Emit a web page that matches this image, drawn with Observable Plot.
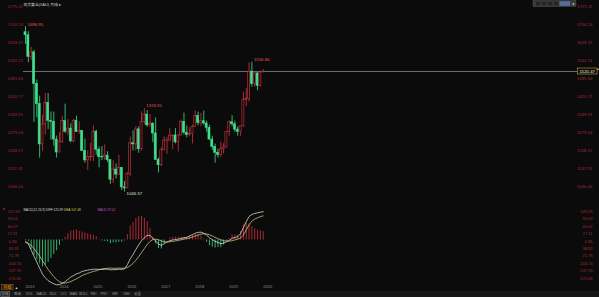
<!DOCTYPE html>
<html><head><meta charset="utf-8">
<script src="https://cdn.jsdelivr.net/npm/d3@7"></script>
<script src="https://cdn.jsdelivr.net/npm/@observablehq/plot@0.6"></script>
<style>
html,body{margin:0;padding:0;background:#0b0b0b;}
#wrap{position:relative;width:599px;height:297px;overflow:hidden;background:#0b0b0b;}
#wrap svg{position:absolute;left:0;}
</style></head><body><div id="wrap"></div>
<script>
// ---------- data ----------
const months = [
"2013-01","2013-02","2013-03","2013-04","2013-05","2013-06","2013-07","2013-08","2013-09","2013-10","2013-11","2013-12",
"2014-01","2014-02","2014-03","2014-04","2014-05","2014-06","2014-07","2014-08","2014-09","2014-10","2014-11","2014-12",
"2015-01","2015-02","2015-03","2015-04","2015-05","2015-06","2015-07","2015-08","2015-09","2015-10","2015-11","2015-12",
"2016-01","2016-02","2016-03","2016-04","2016-05","2016-06","2016-07","2016-08","2016-09","2016-10","2016-11","2016-12",
"2017-01","2017-02","2017-03","2017-04","2017-05","2017-06","2017-07","2017-08","2017-09","2017-10","2017-11","2017-12",
"2018-01","2018-02","2018-03","2018-04","2018-05","2018-06","2018-07","2018-08","2018-09","2018-10","2018-11","2018-12",
"2019-01","2019-02","2019-03","2019-04","2019-05","2019-06","2019-07","2019-08","2019-09","2019-10","2019-11","2019-12",
"2020-01"];
const open = [1675,1663,1578,1596,1472,1392,1234,1312,1396,1327,1323,1253,
1202,1244,1326,1284,1296,1246,1327,1282,1287,1208,1171,1183,
1184,1284,1213,1184,1183,1190,1172,1095,1135,1115,1142,1065,
1061,1118,1238,1234,1293,1215,1322,1351,1309,1316,1277,1173,
1152,1211,1248,1249,1268,1269,1242,1269,1322,1280,1271,1275,
1303,1345,1318,1325,1316,1299,1253,1224,1201,1192,1215,1222,
1282,1321,1313,1292,1283,1305,1409,1413,1520,1472,1513,1464,
1517];
const high = [1696.95,1677,1616,1604,1487,1424,1348,1434,1434,1362,1361,1267,
1280,1345,1392,1331,1315,1332,1345,1323,1288,1255,1208,1238,
1307,1289,1224,1225,1232,1205,1172,1170,1157,1191,1142,1088,
1124,1263,1287,1304,1303,1362,1374.91,1367,1352,1318,1338,1180,
1220,1264,1262,1296,1270,1296,1270,1330,1357,1306,1299,1309,
1366,1361,1356,1365,1326,1309,1266,1235,1214,1243,1237,1284,
1326,1347,1325,1303,1306,1439,1453,1555,1556.80,1517,1516,1522,
1528];
const low = [1627,1555,1563,1321,1338,1180,1207,1271,1292,1251,1227,1180,
1202,1238,1277,1268,1240,1240,1281,1273,1207,1160,1131,1167,
1167,1191,1142,1170,1170,1162,1077,1080,1098,1111,1052,1046.37,
1061,1107,1208,1207,1199,1208,1310,1301,1302,1241,1171,1122,
1147,1208,1195,1244,1214,1236,1204,1267,1271,1260,1264,1236,
1302,1307,1303,1310,1282,1251,1211,1160,1180,1183,1196,1221,
1266,1303,1281,1266,1266,1301,1382,1400,1459,1459,1445,1459,
1517];
const close = [1663,1578,1596,1472,1392,1234,1312,1396,1327,1323,1253,1202,
1244,1326,1284,1296,1246,1327,1282,1287,1208,1171,1183,1184,
1284,1213,1184,1183,1190,1172,1095,1135,1115,1142,1065,1061,
1118,1238,1234,1293,1215,1322,1351,1309,1316,1277,1173,1152,
1211,1249,1249,1268,1269,1242,1269,1322,1280,1271,1275,1303,
1345,1318,1325,1316,1299,1253,1224,1201,1192,1215,1222,1282,
1321,1313,1292,1283,1305,1409,1413,1520,1472,1513,1464,1517,
1520.47];
const lastPrice = 1520.47;

const diff = [-10,-17,-45,-72,-99,-125,-152,-168,-181,-189,-195,-200,
-198,-193,-186,-175,-165,-158,-151,-147,-140,-137,-134,-132,
-130,-130,-131,-131,-130,-130,-133,-132,-132,-130,-131,-128,
-110,-84,-65,-42,-22,-3,10,21,20,8,-5,-18,
-24,-16,-9,-3,0,2,4,7,10,12,18,24,
30,34,35,30,22,10,2,-6,-11,-16,-14,-8,
-2,8,11,15,28,55,82,104,114,118,121,124,
125.99];
const dea = [-8,-14,-24,-38,-55,-72,-92,-112,-131,-148,-163,-176,
-186,-191,-192,-189,-185,-179,-173,-166,-158,-153,-148,-144,
-140,-137,-132,-129,-127,-126,-125,-126,-126,-125,-126,-126,
-122,-115,-104,-90,-74,-56,-38,-20,-6,2,4,1,
-4,-8,-9,-8,-6,-4,-2,1,4,6,9,13,
18,22,26,28,27,23,18,12,6,1,-3,-5,
-5,-3,0,4,9,22,45,68,84,93,99,104,
107.48];
const macd = [-4,-6,-42,-68,-88,-106,-120,-112,-100,-82,-64,-48,
-24,-4,12,28,40,42,44,38,36,32,28,24,
20,14,2,-4,-6,-8,-16,-12,-12,-10,-10,-4,
24,62,78,96,104,106,96,82,52,12,-18,-38,
-40,-16,0,10,12,12,12,12,12,12,18,22,
24,24,18,4,-10,-26,-32,-36,-34,-34,-22,-6,
6,22,22,22,38,66,74,72,60,50,44,40,
37.02];

const priceTicks = [1775.11,1704.24,1633.37,1562.51,1491.64,1420.77,1349.91,1279.04,1208.17,1137.31,1066.44];
const priceTickLabels = ["1775.11","1704.24","1633.37","1562.51","1491.64","1420.77","1349.91","1279.04","1208.17","1137.31","1066.44"];
const macdTicks = [125.99,93.03,60.07,27.11,-5.86,-38.82,-71.78,-104.74,-137.70,-170.66];
const macdTickLabels = ["125.99","93.03","60.07","27.11","-5.86","-38.82","-71.78","-104.74","-137.70","-170.66"];
const years = ["2013","2014","2015","2016","2017","2018","2019","2020"];
const yearMonths = ["2013-01","2014-01","2015-01","2016-01","2017-01","2018-01","2019-01","2020-01"];

const annotMonths = ["2013-01","2016-07","2019-09","2015-12"];
const annotValues = [1696.95,1374.91,1556.80,1046.37];
const annotLabels = ["1696.95","1374.91","1556.80","1046.37"];
const annotKinds = ["max","max","max","min"];

const titleText = "现货黄金(XAU)·月线 ▸";
const macdTitle = ["MACD(12,26,9) DIFF:125.99","DEA:107.48","MACD:37.02"];
const toolbarItems = ["日线","周线","VOL","MACD","KDJ","CCI","BIAS","BOLL","RSI","PSY","WR","DMI","设置"];

// ---------- layout / style ----------
const W = 599, H = 297;
const X0 = 25, STEP = 2.83;           // x of first candle, px per month
const xDomain = [-X0 / STEP, (W - X0) / STEP];
const BG = "#0b0b0b", RED = "#d3333f", GREEN = "#3fe08e", AXIS = "#a8283a";
const FONT = "'Liberation Sans', 'Noto Sans CJK SC', sans-serif";
const idx = m => months.indexOf(m);

const rows = months.map((m, i) => ({i, o: open[i], h: high[i], l: low[i], c: close[i]}));
const up = d => d.c >= d.o;
const annots = annotLabels.map((t, i) => ({t, i: idx(annotMonths[i]), v: annotValues[i], k: annotKinds[i]}));

const xScale = {type: "linear", domain: xDomain, range: [0, W], axis: null};

const PH = 200;
const pricePlot = Plot.plot({
  width: W, height: PH, margin: 0,
  style: {background: "transparent", fontFamily: FONT, overflow: "visible"},
  x: xScale,
  y: {domain: [1013.3, 1799.8], range: [PH, 0], axis: null},
  marks: [
    Plot.ruleY([lastPrice], {stroke: "#9a9a9a", strokeWidth: 0.7, insetLeft: 23, insetRight: 2}),
    Plot.ruleX(rows, {x: "i", y1: "l", y2: "h", stroke: d => up(d) ? RED : GREEN, strokeWidth: 0.8}),
    Plot.rect(rows, {x1: d => d.i - 0.36, x2: d => d.i + 0.36, y1: "o", y2: "c",
      fill: d => up(d) ? BG : GREEN, stroke: d => up(d) ? RED : GREEN, strokeWidth: 0.6}),
    Plot.text(priceTicks, {y: d => d, text: (d, i) => priceTickLabels[i], frameAnchor: "left",
      textAnchor: "start", dx: 7, fill: AXIS, fontSize: 4.3}),
    Plot.text(priceTicks, {y: d => d, text: (d, i) => priceTickLabels[i], frameAnchor: "right",
      textAnchor: "end", dx: -7, fill: AXIS, fontSize: 4.3}),
    Plot.text(annots.filter(a => a.k === "max"), {x: "i", y: "v", text: "t",
      textAnchor: "start", dx: 2, dy: -2.5, fill: "#f0505e", fontSize: 4.3}),
    Plot.text(annots.filter(a => a.k === "min"), {x: "i", y: "v", text: "t",
      textAnchor: "start", dx: 2, dy: 2, fill: "#cfe6d6", fontSize: 4.3}),
    Plot.text([titleText], {frameAnchor: "top-left", dx: 23, dy: 4, lineAnchor: "middle",
      textAnchor: "start", fill: "#cfcfcf", fontSize: 3.8})
  ]
});

const MH = 90, MTOP = 200;
const mrows = months.map((m, i) => ({i, diff: diff[i], dea: dea[i], macd: macd[i]}));
const macdPlot = Plot.plot({
  width: W, height: MH, margin: 0,
  style: {background: "transparent", fontFamily: FONT, overflow: "visible"},
  x: xScale,
  y: {domain: [-224.9, 175.9], range: [MH, 0], axis: null},
  marks: [
    Plot.ruleX(mrows, {x: "i", y1: 0, y2: "macd", stroke: d => d.macd >= 0 ? RED : GREEN, strokeWidth: 0.8}),
    Plot.line(mrows, {x: "i", y: "diff", stroke: "#f2f2f2", strokeWidth: 0.7}),
    Plot.line(mrows, {x: "i", y: "dea", stroke: "#e6d68a", strokeWidth: 0.7}),
    Plot.text(macdTicks, {y: d => d, text: (d, i) => macdTickLabels[i], frameAnchor: "left",
      textAnchor: "start", dx: 7, fill: AXIS, fontSize: 4}),
    Plot.text(macdTicks, {y: d => d, text: (d, i) => macdTickLabels[i], frameAnchor: "right",
      textAnchor: "end", dx: -7, fill: AXIS, fontSize: 4}),
    Plot.text(years, {x: (d, i) => idx(yearMonths[i]), frameAnchor: "bottom", dy: -2.7,
      textAnchor: "start", fill: "#8c8c8c", fontSize: 4}),
    Plot.text(["▸"], {frameAnchor: "top-left", dx: 2.5, dy: 7, fill: RED, fontSize: 4, textAnchor: "start"}),
    Plot.text([macdTitle[0]], {frameAnchor: "top-left", dx: 23, dy: 8, fill: "#d8d8d8", fontSize: 3.1, textAnchor: "start"}),
    Plot.text([macdTitle[1]], {frameAnchor: "top-left", dx: 63.5, dy: 8, fill: "#d8cf5a", fontSize: 3.1, textAnchor: "start"}),
    Plot.text([macdTitle[2]], {frameAnchor: "top-left", dx: 97, dy: 8, fill: "#d24ad2", fontSize: 3.1, textAnchor: "start"})
  ]
});

const wrap = document.getElementById("wrap");
pricePlot.style.top = "0px";
macdPlot.style.top = MTOP + "px";
wrap.appendChild(pricePlot);
wrap.appendChild(macdPlot);

// ---------- UI chrome overlay ----------
const ov = d3.select(wrap).append("svg").attr("width", W).attr("height", H)
  .style("top", "0px").style("font-family", FONT);

// top-right toolbar
const tb = ov.append("g");
tb.append("rect").attr("x", 533).attr("y", 0.5).attr("width", 43).attr("height", 6)
  .attr("fill", "#3a3a3a").attr("stroke", "#5a5a5a").attr("stroke-width", 0.4);
[536, 542, 548, 554].forEach(x => tb.append("rect").attr("x", x).attr("y", 1.5).attr("width", 4.5).attr("height", 4)
  .attr("fill", "#262626"));
tb.append("rect").attr("x", 559.5).attr("y", 1.2).attr("width", 10.5).attr("height", 4.6).attr("fill", "#52709c");
tb.append("text").attr("x", 573).attr("y", 4.8).attr("font-size", 4).attr("fill", "#ddd")
  .attr("text-anchor", "middle").text("◂");

// current price box
const yp = pricePlot.scale("y").apply(lastPrice);
ov.append("rect").attr("x", 577.5).attr("y", yp - 3).attr("width", 19.5).attr("height", 6)
  .attr("fill", BG).attr("stroke", "#c9a227").attr("stroke-width", 0.6);
ov.append("text").attr("x", 587.2).attr("y", yp + 1.5).attr("font-size", 4.3).attr("fill", "#ececec")
  .attr("text-anchor", "middle").text(lastPrice.toFixed(2));
ov.append("text").attr("x", 597.5).attr("y", yp - 1).attr("font-size", 3.5).attr("fill", "#bbb")
  .attr("text-anchor", "middle").text("▴");

// bottom: period selector + indicator tabs
ov.append("rect").attr("x", 1.5).attr("y", 284.3).attr("width", 11.5).attr("height", 5.5)
  .attr("fill", "#2a1a08").attr("stroke", "#a8661a").attr("stroke-width", 0.5);
ov.append("text").attr("x", 7.2).attr("y", 288.6).attr("font-size", 4).attr("fill", "#f0a528")
  .attr("text-anchor", "middle").text("月线");
ov.append("text").attr("x", 16.5).attr("y", 288.6).attr("font-size", 3.5).attr("fill", "#ddd")
  .attr("text-anchor", "middle").text("▲");
ov.append("rect").attr("x", 0).attr("y", 290.8).attr("width", W).attr("height", 6.2).attr("fill", "#171717");
const tabX = [5, 17.5, 29.5, 41.5, 53, 63.5, 73.5, 83.5, 93.5, 104, 115, 126.5, 137.5];
ov.append("rect").attr("x", 0.8).attr("y", 291.3).attr("width", 9).attr("height", 5.2)
  .attr("fill", "#2c2c2c").attr("stroke", "#8a8a8a").attr("stroke-width", 0.4);
toolbarItems.forEach((t, i) => ov.append("text").attr("x", tabX[i]).attr("y", 295.3)
  .attr("font-size", 3.4).attr("fill", "#9a9a9a").attr("text-anchor", "middle").text(t));
</script></body></html>
